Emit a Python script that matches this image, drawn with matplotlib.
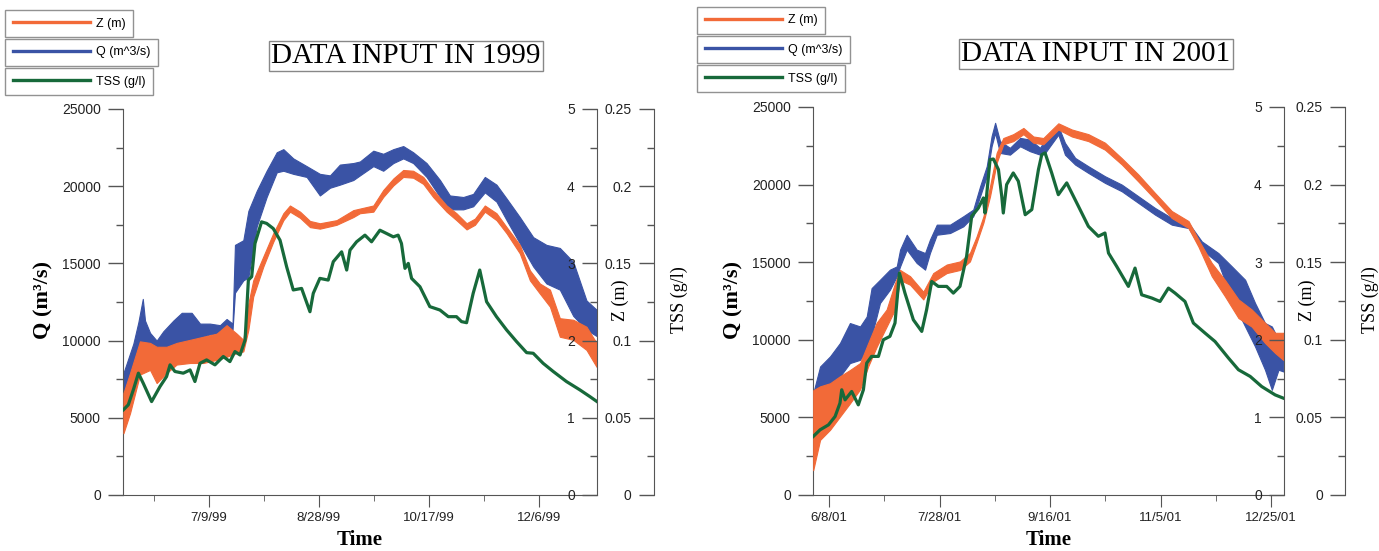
import numpy as np
import pandas as pd
import matplotlib
matplotlib.use("Agg")
import matplotlib.pyplot as plt
import matplotlib.dates as mdates
from matplotlib.ticker import MultipleLocator, FuncFormatter, FixedLocator
from matplotlib.lines import Line2D

# ---------------- 1999 data (days counted from the left edge of the time axis) ----------------
q99_days = [0.2, 4.7, 7.0, 9.0, 10.0, 12.3, 15.3, 18.3, 22.9, 26.7, 31.2, 35.0, 39.5, 44.1, 47.1,
            49.8, 50.9, 54.7, 57.0, 60.8, 65.3, 69.9, 72.9, 77.4, 83.5, 89.5, 94.1, 98.6, 104.7,
            107.7, 113.8, 118.3, 122.9, 127.4, 131.9, 138.0, 144.1, 148.6, 154.7, 159.2, 164.5,
            169.8, 174.4, 180.4, 186.5, 192.5, 198.6, 204.7, 210.7, 215.3]
q99_hi = [7900, 9800, 11200, 12700, 11300, 10500, 10000, 10600, 11300, 11800, 11800, 11100, 11100,
          11000, 11400, 11100, 16200, 16500, 18400, 19700, 21000, 22200, 22400, 21800, 21300, 20800,
          20700, 21400, 21500, 21600, 22300, 22100, 22400, 22600, 22200, 21500, 20400, 19400, 19300,
          19500, 20600, 20100, 19200, 18000, 16700, 16200, 16000, 15100, 12600, 12000]
q99_lo = [6600, 7900, 9000, 9600, 9600, 9600, 9400, 9500, 9700, 9800, 10000, 10200, 10400, 10500,
          10600, 10700, 13100, 13900, 14100, 17400, 19300, 20900, 21000, 20800, 20600, 19400, 19900,
          20100, 20400, 20700, 21300, 21000, 21500, 21800, 21500, 20600, 19300, 18500, 18500, 18700,
          19600, 19000, 17800, 16300, 14800, 13700, 13300, 11600, 10700, 10300]

z99_days = [0.2, 3.2, 7.7, 12.3, 15.3, 19.8, 24.4, 30.5, 36.5, 42.6, 47.1, 51.7, 54.7, 57.0, 59.2,
            63.8, 68.3, 72.9, 75.9, 80.5, 85.0, 89.5, 97.1, 104.7, 107.7, 113.8, 118.3, 122.9,
            127.4, 131.9, 136.5, 141.0, 147.1, 151.6, 156.2, 160.0, 164.5, 169.8, 174.4, 180.4,
            185.0, 189.5, 194.1, 198.6, 204.7, 210.7, 215.3]
z99_hi = [1.32, 1.58, 1.99, 1.97, 1.92, 1.92, 1.97, 2.01, 2.05, 2.09, 2.20, 2.09, 2.01, 2.48, 2.78,
          3.09, 3.39, 3.65, 3.75, 3.67, 3.55, 3.52, 3.56, 3.69, 3.71, 3.75, 3.95, 4.10, 4.21, 4.20,
          4.12, 3.95, 3.75, 3.65, 3.52, 3.58, 3.75, 3.65, 3.47, 3.24, 2.91, 2.74, 2.66, 2.29, 2.27,
          2.18, 1.97]
z99_lo = [0.80, 1.06, 1.56, 1.62, 1.45, 1.58, 1.69, 1.71, 1.71, 1.75, 1.79, 1.84, 1.86, 2.14, 2.57,
          2.96, 3.28, 3.56, 3.67, 3.59, 3.47, 3.45, 3.50, 3.60, 3.65, 3.67, 3.86, 4.01, 4.12, 4.11,
          4.03, 3.86, 3.67, 3.56, 3.44, 3.50, 3.67, 3.56, 3.39, 3.13, 2.78, 2.61, 2.44, 2.05, 2.01,
          1.88, 1.66]

tss99_days = [0.2, 2.4, 4.7, 7.0, 9.2, 13.0, 16.8, 19.8, 21.4, 23.6, 27.4, 30.5, 32.7, 35.0, 38.0,
              41.8, 45.6, 48.6, 50.9, 53.2, 55.5, 57.0, 58.5, 60.0, 63.0, 65.3, 68.3, 71.4, 74.4,
              77.4, 81.2, 85.0, 86.5, 89.5, 93.3, 95.6, 99.4, 101.7, 103.2, 106.2, 110.0, 113.0,
              116.8, 119.8, 122.9, 125.1, 126.6, 128.2, 129.7, 131.2, 135.0, 139.5, 144.1, 147.9,
              151.6, 153.9, 156.2, 159.2, 162.2, 165.3, 169.8, 174.4, 178.9, 183.5, 186.5, 191.0,
              195.6, 201.6, 207.7, 212.2, 215.5]
tss99 = [0.0552, 0.0584, 0.0681, 0.0789, 0.0724, 0.0605, 0.0702, 0.0767, 0.0843, 0.0800, 0.0789,
         0.0810, 0.0735, 0.0853, 0.0875, 0.0843, 0.0897, 0.0864, 0.0929, 0.0907, 0.1004, 0.1392,
         0.1414, 0.1629, 0.1769, 0.1759, 0.1726, 0.1650, 0.1478, 0.1328, 0.1338, 0.1187, 0.1306,
         0.1403, 0.1392, 0.1511, 0.1575, 0.1457, 0.1586, 0.1640, 0.1683, 0.1640, 0.1715, 0.1694,
         0.1672, 0.1683, 0.1629, 0.1468, 0.1500, 0.1403, 0.1349, 0.1220, 0.1198, 0.1155, 0.1155,
         0.1123, 0.1116, 0.1306, 0.1457, 0.1252, 0.1155, 0.1069, 0.0994, 0.0922, 0.0918, 0.0853,
         0.0800, 0.0735, 0.0681, 0.0638, 0.0605]

# ---------------- 2001 data ----------------
q01_days = [0.1, 3.2, 7.7, 12.2, 16.7, 21.3, 24.3, 26.5, 30.3, 34.8, 37.9, 39.4, 42.4, 46.9, 50.7,
            52.9, 56.0, 62.0, 68.0, 72.5, 75.6, 78.6, 80.8, 82.4, 84.6, 89.1, 93.7, 98.2, 102.7,
            105.0, 111.0, 114.0, 118.6, 124.6, 132.1, 139.7, 147.2, 154.8, 162.3, 169.9, 175.9,
            183.4, 189.5, 195.5, 200.0, 204.5, 207.6, 210.6, 212.8]
q01_hi = [6560, 8280, 8930, 9790, 11080, 10860, 11500, 13330, 13870, 14520, 14730, 15810, 16770,
          15810, 15590, 16450, 17420, 17420, 17960, 18390, 19890, 21180, 23120, 23980, 22800, 22370,
          23010, 22900, 22370, 22900, 23760, 22690, 21720, 21180, 20540, 20000, 19250, 18490, 17850,
          17530, 16340, 15590, 14730, 13870, 12370, 11080, 10860, 10000, 9790]
q01_lo = [5270, 6990, 6990, 7640, 8500, 8710, 9360, 10220, 12370, 13230, 14090, 14730, 15810, 14950,
          14520, 15590, 16770, 16880, 17310, 17960, 19250, 20540, 22470, 23330, 22040, 21930, 22470,
          22150, 21930, 22040, 23220, 21930, 21290, 20750, 20110, 19570, 18820, 18060, 17420, 17200,
          15810, 14950, 12580, 10860, 9570, 8070, 6780, 8070, 7960]

z01_days = [0.1, 3.2, 7.7, 12.2, 16.7, 21.3, 25.0, 28.8, 33.3, 37.1, 39.4, 43.9, 49.9, 54.4, 60.5,
            66.5, 71.0, 74.0, 77.1, 80.1, 83.1, 86.1, 90.6, 95.2, 99.7, 104.2, 111.0, 117.1, 124.6,
            132.1, 139.7, 147.2, 154.8, 162.3, 169.9, 174.4, 180.4, 186.4, 192.5, 198.5, 204.5,
            209.1, 212.8]
z01_hi = [1.35, 1.40, 1.44, 1.53, 1.61, 1.70, 1.96, 2.22, 2.39, 2.73, 2.90, 2.82, 2.62, 2.86, 2.97,
          3.01, 3.12, 3.33, 3.59, 3.98, 4.41, 4.60, 4.65, 4.73, 4.62, 4.60, 4.79, 4.71, 4.65, 4.54,
          4.34, 4.13, 3.89, 3.66, 3.53, 3.29, 2.99, 2.77, 2.52, 2.39, 2.22, 2.09, 2.09]
z01_lo = [0.32, 0.71, 0.84, 1.01, 1.18, 1.36, 1.66, 1.91, 2.17, 2.39, 2.77, 2.71, 2.52, 2.75, 2.86,
          2.90, 3.01, 3.25, 3.51, 3.85, 4.28, 4.52, 4.56, 4.65, 4.54, 4.52, 4.71, 4.62, 4.56, 4.45,
          4.26, 4.04, 3.81, 3.57, 3.44, 3.20, 2.82, 2.56, 2.28, 2.17, 1.96, 1.83, 1.74]

tss01_days = [0.1, 3.2, 7.0, 10.0, 12.2, 13.0, 14.5, 17.5, 20.5, 22.8, 24.3, 26.5, 29.6, 31.8, 34.8,
              37.1, 39.1, 41.6, 45.4, 49.2, 51.4, 53.7, 56.7, 60.5, 63.5, 66.5, 69.5, 71.8, 74.8,
              77.1, 77.8, 80.1, 81.6, 83.9, 85.4, 86.1, 87.6, 90.6, 92.9, 96.0, 99.0, 102.0, 103.5,
              105.0, 108.0, 111.0, 114.8, 120.1, 124.6, 129.1, 132.1, 133.7, 137.4, 142.7, 145.7,
              148.7, 153.3, 157.0, 160.8, 163.8, 168.3, 172.1, 177.4, 181.9, 188.0, 192.5, 197.8,
              203.0, 209.1, 212.8]
tss01 = [0.0377, 0.0420, 0.0452, 0.0506, 0.0592, 0.0678, 0.0613, 0.0667, 0.0581, 0.0678, 0.0850,
         0.0893, 0.0893, 0.1000, 0.1022, 0.1108, 0.1430, 0.1301, 0.1129, 0.1054, 0.1194, 0.1376,
         0.1344, 0.1344, 0.1301, 0.1344, 0.1538, 0.1796, 0.1849, 0.1914, 0.1817, 0.2161, 0.2165,
         0.2097, 0.1925, 0.1817, 0.2000, 0.2075, 0.2022, 0.1806, 0.1839, 0.2097, 0.2193, 0.2204,
         0.2075, 0.1935, 0.2011, 0.1860, 0.1731, 0.1667, 0.1688, 0.1559, 0.1473, 0.1344, 0.1462,
         0.1290, 0.1269, 0.1247, 0.1333, 0.1301, 0.1247, 0.1108, 0.1043, 0.0989, 0.0882, 0.0807,
         0.0764, 0.0699, 0.0645, 0.0624]

# axis ticks
major99 = ['1999-07-09', '1999-08-28', '1999-10-17', '1999-12-06']
labels99 = ['7/9/99', '8/28/99', '10/17/99', '12/6/99']
minor99 = ['1999-06-14', '1999-08-03', '1999-09-22', '1999-11-11']
major01 = ['2001-06-08', '2001-07-28', '2001-09-16', '2001-11-05', '2001-12-25']
labels01 = ['6/8/01', '7/28/01', '9/16/01', '11/5/01', '12/25/01']
minor01 = ['2001-07-03', '2001-08-22', '2001-10-11', '2001-11-30']

Z_COL = '#f26a38'
Q_COL = '#3a53a5'
TSS_COL = '#17693a'
AX_COL = '#555555'
SANS = 'Liberation Sans'
SERIF = 'Liberation Serif'

W, H = 1379, 551
fig = plt.figure(figsize=(W / 100, H / 100), dpi=100)


def style_axis(a, major, minor):
    a.yaxis.set_major_locator(MultipleLocator(major))
    a.yaxis.set_minor_locator(MultipleLocator(minor))
    a.tick_params(axis='y', which='major', length=11, width=1, color=AX_COL, pad=5,
                  labelsize=10, labelcolor='#222222')
    a.tick_params(axis='y', which='minor', length=5, width=1, color=AX_COL)
    for lab in a.get_yticklabels():
        lab.set_fontfamily(SANS)


def panel(rect, start, span, qd, qlo, qhi, zd, zlo, zhi, td, tss, major, labels, minor, tss_off,
          title, title_xy, leg_xy):
    x0 = mdates.date2num(pd.Timestamp(start).to_pydatetime())
    ax = fig.add_axes(rect)
    ax.fill_between(x0 + np.array(qd), qlo, qhi, color=Q_COL, lw=0.8)
    ax.set_xlim(x0, x0 + span)
    ax.set_ylim(0, 25000)
    for s in ['top', 'right']:
        ax.spines[s].set_visible(False)
    for s in ['left', 'bottom']:
        ax.spines[s].set_color(AX_COL)
    style_axis(ax, 5000, 2500)
    ax.xaxis.set_major_locator(FixedLocator(mdates.date2num(pd.to_datetime(major))))
    ax.xaxis.set_minor_locator(FixedLocator(mdates.date2num(pd.to_datetime(minor))))
    ax.set_xticklabels(labels, fontfamily=SANS, fontsize=9.5, color='#222222')
    ax.tick_params(axis='x', which='major', length=8.5, color=AX_COL, pad=4)
    ax.tick_params(axis='x', which='minor', length=4.3, color=AX_COL)

    az = ax.twinx()
    az.fill_between(x0 + np.array(zd), zlo, zhi, color=Z_COL, lw=0.8)
    az.set_ylim(0, 5)
    az.yaxis.tick_left()
    az.spines['left'].set_position(('axes', 1.0))
    for s in ['right', 'top', 'bottom']:
        az.spines[s].set_visible(False)
    az.spines['left'].set_color(AX_COL)
    style_axis(az, 1, 0.5)

    at = ax.twinx()
    at.plot(x0 + np.array(td), tss, color=TSS_COL, lw=2.3)
    at.set_ylim(0, 0.25)
    at.set_xlim(x0, x0 + span)
    at.yaxis.tick_left()
    at.spines['left'].set_position(('axes', tss_off))
    for s in ['right', 'top', 'bottom']:
        at.spines[s].set_visible(False)
    at.spines['left'].set_color(AX_COL)
    style_axis(at, 0.05, 0.025)
    at.yaxis.set_major_formatter(FuncFormatter(lambda v, p: '{:g}'.format(round(v, 3))))

    # axis titles
    left = rect[0] * W
    right = (rect[0] + rect[2]) * W
    yc = 1 - 300 / H
    fig.text((left - 80) / W, yc, 'Q (m³/s)', rotation=90, ha='center', va='center',
             fontfamily=SERIF, fontweight='bold', fontsize=16)
    fig.text((right + 23) / W, yc, 'Z (m)', rotation=90, ha='center', va='center',
             fontfamily=SERIF, fontsize=13)
    fig.text((right + 82 + (tss_off - 1.12) * rect[2] * W) / W, yc, 'TSS (g/l)', rotation=90,
             ha='center', va='center', fontfamily=SERIF, fontsize=13)
    fig.text((left + right) / 2 / W, 1 - 540 / H, 'Time', ha='center', va='center',
             fontfamily=SERIF, fontweight='bold', fontsize=15)

    fig.text(title_xy[0] / W, 1 - title_xy[1] / H, title, ha='center', va='center',
             fontfamily=SERIF, fontsize=21,
             bbox=dict(boxstyle='square,pad=0.08', fc='white', ec='#888888', lw=1))

    entries = [('Z (m)', Z_COL), ('Q (m^3/s)', Q_COL), ('TSS (g/l)', TSS_COL)]
    for i, (name, col) in enumerate(entries):
        h = Line2D([], [], color=col, lw=2.4)
        lg = fig.legend(handles=[h], labels=[name], loc='upper left',
                        bbox_to_anchor=(leg_xy[0] / W, 1 - (leg_xy[1] + 29 * i) / H),
                        bbox_transform=fig.transFigure, frameon=True, fancybox=False,
                        edgecolor='#777777', borderpad=0.6, handlelength=6.2,
                        handletextpad=0.45, borderaxespad=0,
                        prop={'family': SANS, 'size': 9})
        lg.get_frame().set_linewidth(1)


panel([123 / W, 1 - 495 / H, 474 / W, 386 / H], '1999-05-31', 215.5,
      q99_days, q99_lo, q99_hi, z99_days, z99_lo, z99_hi, tss99_days, tss99,
      major99, labels99, minor99, 1.12, 'DATA INPUT IN 1999', (406, 56), (5, 10))
panel([813 / W, 1 - 495 / H, 471 / W, 388 / H], '2001-05-31 18:00', 213.1,
      q01_days, q01_lo, q01_hi, z01_days, z01_lo, z01_hi, tss01_days, tss01,
      major01, labels01, minor01, 1.1295, 'DATA INPUT IN 2001', (1096, 54), (697, 7))

fig.savefig('out.png', dpi=100)
